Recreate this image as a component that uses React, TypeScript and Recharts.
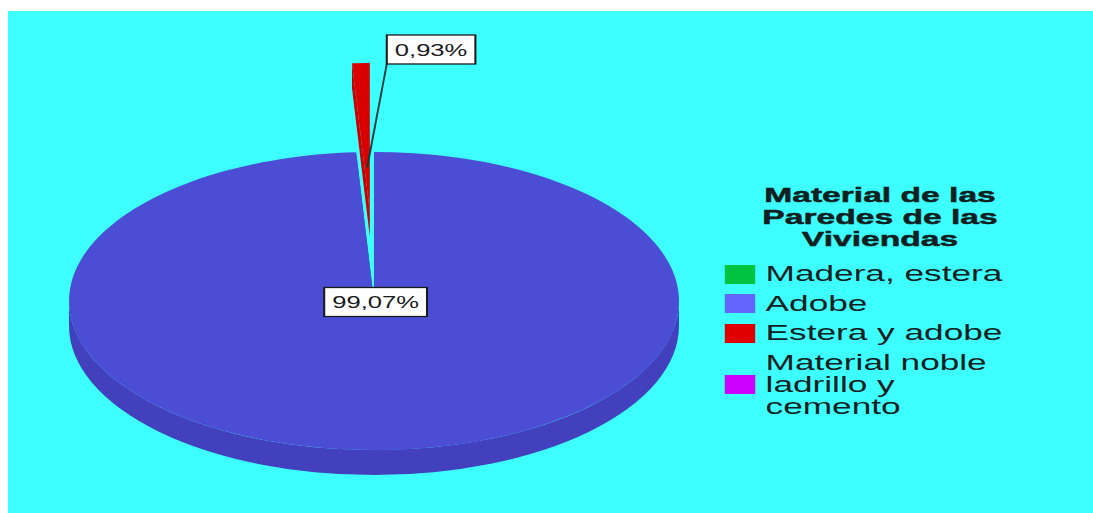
import { PieChart, Pie, Cell, Legend } from "recharts";

const CATEGORIES = [
  "Madera, estera",
  "Adobe",
  "Estera y adobe",
  "Material noble ladrillo y cemento",
];
const PERCENTS = [0, 99.07, 0.93, 0];
const LEGEND_TITLE = ["Material de las", "Paredes de las", "Viviendas"];
const EXPLODED = "Estera y adobe";

const SWATCH_COLORS = ["#00C43F", "#6464FF", "#E00000", "#CC00FF"];
const FACE_COLORS = ["#00A838", "#4B4ED4", "#D80000", "#B000DD"];
const SIDE_COLORS = ["#008A2E", "#4240BC", "#C80000", "#9000B8"];

const data = CATEGORIES.map((name, i) => ({ name, value: PERCENTS[i] }));

// the source picture is a horizontally stretched image, so draw narrow and stretch
const SX = 1.6;
const W = 1085;
const H = 502;
const CHART_W = Math.ceil(W / SX);
const FONT = "'Liberation Sans', Arial, sans-serif";
const TEXT = "#102020";

const TILT = 0.782; // ry / rx of the tilted pie
const DEPTH = 25;
const EXPLODE = 89;

// put the exploded slice just left of 12 o'clock
const explodedShare = PERCENTS[CATEGORIES.indexOf(EXPLODED)] / 100;
const START = 90 + 360 * explodedShare;

const rad = (d: number) => (d * Math.PI) / 180;
const pt = (cx: number, cy: number, rx: number, ry: number, a: number) => [
  cx + rx * Math.cos(rad(a)),
  cy - ry * Math.sin(rad(a)),
];

function explodeOffset(name: string, mid: number) {
  if (name !== EXPLODED) return [0, 0];
  return [EXPLODE * Math.cos(rad(mid)), -EXPLODE * Math.sin(rad(mid))];
}

function renderSlice(p: any) {
  const { cx, cy, outerRadius, startAngle, endAngle, index } = p;
  if (Math.abs(endAngle - startAngle) < 1e-6) return null;
  const name = p.payload?.name ?? p.name;
  const a0 = Math.min(startAngle, endAngle);
  const a1 = Math.max(startAngle, endAngle);
  const rx = outerRadius;
  const ry = outerRadius * TILT;
  const mid = (a0 + a1) / 2;
  const [ox, oy] = explodeOffset(name, mid);
  const [x0, y0] = pt(cx, cy, rx, ry, a0);
  const [x1, y1] = pt(cx, cy, rx, ry, a1);
  const large = a1 - a0 > 180 ? 1 : 0;
  const face = `M${cx},${cy}L${x0},${y0}A${rx},${ry} 0 ${large} 0 ${x1},${y1}Z`;

  // front rim (where the ellipse faces the viewer)
  const sides: string[] = [];
  for (const k of [-1, 0, 1]) {
    const f0 = Math.max(a0, 180 + 360 * k);
    const f1 = Math.min(a1, 360 + 360 * k);
    if (f1 <= f0) continue;
    const [sx0, sy0] = pt(cx, cy, rx, ry, f0);
    const [sx1, sy1] = pt(cx, cy, rx, ry, f1);
    const lg = f1 - f0 > 180 ? 1 : 0;
    sides.push(
      `M${sx0},${sy0}A${rx},${ry} 0 ${lg} 0 ${sx1},${sy1}L${sx1},${sy1 + DEPTH}A${rx},${ry} 0 ${lg} 1 ${sx0},${sy0 + DEPTH}Z`
    );
  }
  // cut walls
  const walls = [
    [x0, y0],
    [x1, y1],
  ].map(
    ([x, y]) =>
      `M${cx},${cy}L${x},${y}L${x},${y + DEPTH}L${cx},${cy + DEPTH}Z`
  );

  return (
    <g transform={`translate(${ox},${oy})`}>
      {walls.map((d, i) => (
        <path key={"w" + i} d={d} fill={SIDE_COLORS[index]} />
      ))}
      {sides.map((d, i) => (
        <path key={"s" + i} d={d} fill={SIDE_COLORS[index]} />
      ))}
      <path d={face} fill={FACE_COLORS[index]} />
    </g>
  );
}

const CHAR_W: Record<string, number> = { ",": 0.278, "%": 0.889 };
const textWidth = (s: string, size: number) =>
  s.split("").reduce((t, c) => t + (CHAR_W[c] ?? 0.556), 0) * size;

function renderLabel(p: any) {
  const { cx, cy, midAngle, outerRadius, value } = p;
  if (!value) return null;
  const name = p.payload?.name ?? p.name;
  const text = value.toFixed(2).replace(".", ",") + "%";
  const w = textWidth(text, 16) + 10;
  const h = 29;
  const ry = outerRadius * TILT;

  if (name === EXPLODED) {
    const [ox, oy] = explodeOffset(name, midAngle);
    const ax = cx + ox + 0.3 * outerRadius * Math.cos(rad(midAngle));
    const ay = cy + oy - 0.3 * ry * Math.sin(rad(midAngle));
    const bx = cx + 8;
    const by = cy + oy - ry + 1;
    return (
      <g>
        <line x1={ax} y1={ay} x2={bx} y2={by} stroke="#143C3C" strokeWidth={1.2} />
        <rect x={bx} y={by - h} width={w} height={h} fill="#fff" stroke="#1a1a1a" strokeWidth={1.3} />
        <text
          x={bx + w / 2}
          y={by - h / 2 + 1}
          textAnchor="middle"
          dominantBaseline="central"
          fontFamily={FONT}
          fontSize={16}
          fill="#1a1a1a"
        >
          {text}
        </text>
      </g>
    );
  }
  const bx = cx + 1 - w / 2;
  const by = cy + 1 - h / 2;
  return (
    <g>
      <rect x={bx} y={by} width={w} height={h} fill="#fff" stroke="#1a1a1a" strokeWidth={1.3} />
      <text
        x={bx + w / 2}
        y={by + h / 2 + 1}
        textAnchor="middle"
        dominantBaseline="central"
        fontFamily={FONT}
        fontSize={16}
        fill="#1a1a1a"
      >
        {text}
      </text>
    </g>
  );
}

const renderLegend = () => (
  <div style={{ position: "relative", width: CHART_W, height: H, fontFamily: FONT, color: TEXT }}>
    <div
      style={{
        position: "absolute",
        left: 455,
        top: 173,
        width: 180,
        textAlign: "center",
        fontWeight: 700,
        fontSize: 21,
        lineHeight: "22px",
        WebkitTextStroke: "0.5px #102020",
      }}
    >
      {LEGEND_TITLE.map((t) => (
        <div key={t}>{t}</div>
      ))}
    </div>
    <div style={{ position: "absolute", left: 448, top: 252 }}>
      {CATEGORIES.map((c, i) => (
        <div key={c} style={{ display: "flex", alignItems: "center", marginBottom: 7.5 }}>
          <span
            style={{
              width: 19,
              height: 19,
              background: SWATCH_COLORS[i],
              marginRight: 6.5,
              flex: "none",
            }}
          />
          <span style={{ width: 154, fontSize: 22, lineHeight: "22px" }}>{c}</span>
        </div>
      ))}
    </div>
  </div>
);

export default function App() {
  return (
    <div
      style={{
        position: "fixed",
        left: 8,
        top: 11,
        width: W,
        height: H,
        background: "#3DFFFF",
        overflow: "hidden",
      }}
    >
      <div style={{ width: CHART_W, height: H, transform: `scaleX(${SX})`, transformOrigin: "0 0" }}>
        <PieChart width={CHART_W} height={H} margin={{ top: 0, right: 0, bottom: 0, left: 0 }}>
          <Pie
            data={data}
            dataKey="value"
            nameKey="name"
            cx={228.75}
            cy={290}
            innerRadius={0}
            outerRadius={190.6}
            startAngle={START}
            endAngle={START + 360}
            stroke="none"
            label={renderLabel}
            labelLine={false}
            shape={renderSlice}
            inactiveShape={renderSlice}
            activeShape={renderSlice}
            isAnimationActive={false}
          >
            {data.map((d, i) => (
              <Cell key={d.name} fill={FACE_COLORS[i]} />
            ))}
          </Pie>
          <Legend
            content={renderLegend}
            wrapperStyle={{ left: 0, top: 0, width: CHART_W, height: H, pointerEvents: "none" }}
          />
        </PieChart>
      </div>
    </div>
  );
}
